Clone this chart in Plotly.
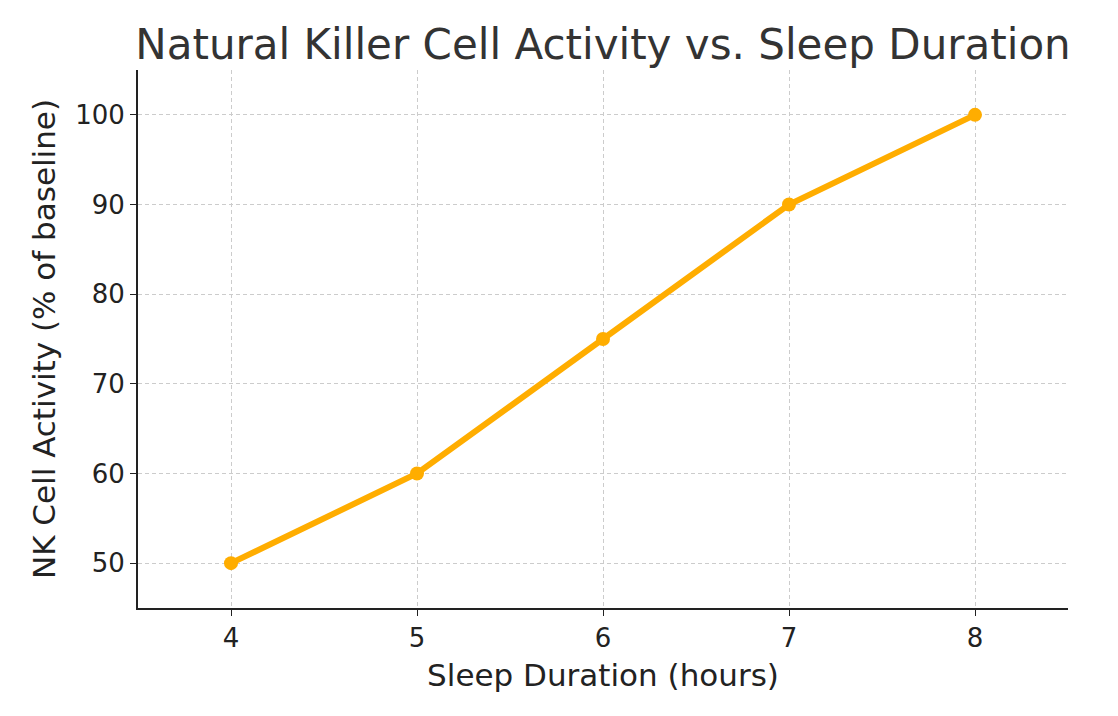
import plotly.graph_objects as go

sleep_hours = [4, 5, 6, 7, 8]
nk_activity = [50, 60, 75, 90, 100]
x_ticks = [4, 5, 6, 7, 8]
y_ticks = [50, 60, 70, 80, 90, 100]

fig = go.Figure(go.Scatter(
    x=sleep_hours, y=nk_activity, mode="lines+markers",
    line=dict(color="#FFAD00", width=6),
    marker=dict(color="#FFAD00", size=14),
))
fig.update_layout(
    width=1118, height=716,
    margin=dict(l=130, r=58, t=62, b=116),
    paper_bgcolor="white", plot_bgcolor="white",
    font=dict(family="DejaVu Sans", color="#222", size=26),
    title=dict(text="Natural Killer Cell Activity vs. Sleep Duration",
               x=0.5, xref="paper", xanchor="center", y=0.95, yanchor="middle",
               font=dict(size=42, color="#333")),
    showlegend=False,
)
axis_common = dict(showline=True, linecolor="#222", linewidth=2,
                   ticks="outside", ticklen=6, tickcolor="#222",
                   showgrid=True, gridcolor="#cccccc", griddash="4px,3px", gridwidth=1,
                   zeroline=False, mirror=False)
fig.update_xaxes(range=[3.5, 8.5], tickvals=x_ticks,
                 title=dict(text="Sleep Duration (hours)", standoff=12), **axis_common)
fig.update_yaxes(range=[45, 105], tickvals=y_ticks,
                 title=dict(text="NK Cell Activity (% of baseline)", standoff=10), **axis_common)
fig.write_html("out.html")
